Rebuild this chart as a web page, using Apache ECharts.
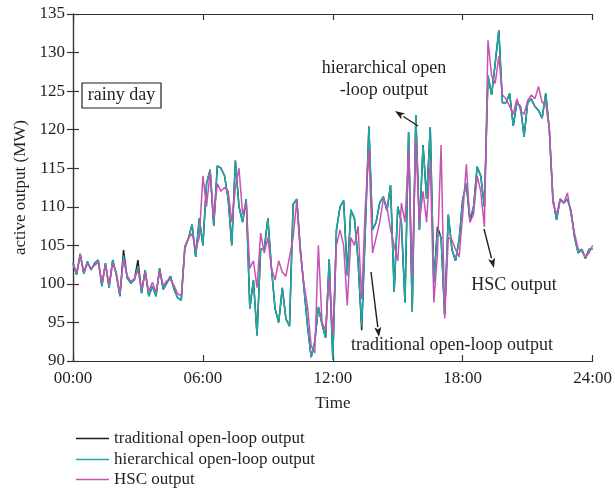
<!DOCTYPE html>
<html>
<head>
<meta charset="utf-8">
<script src="https://cdn.jsdelivr.net/npm/echarts@6/dist/echarts.min.js"></script>
<style>
html, body { margin: 0; padding: 0; background: #fff; }
#main { width: 615px; height: 489px; }
</style>
</head>
<body>
<div id="main"></div>
<script>
// one point every 10 minutes, 00:00 .. 24:00
var stepMin = 10;
var seriesNames = ['traditional open-loop output', 'hierarchical open-loop output', 'HSC output'];
var yTicks = [90, 95, 100, 105, 110, 115, 120, 125, 130, 135];

// hierarchical open-loop output (teal)
var hierarchical = [
	102.7, 101.2, 103.9, 101.3, 102.9, 101.8, 102.7, 103.1, 99.7, 102.7, 99.5, 103.1, 101.2, 98.4, 103.7, 100.8, 100.1, 100.5, 102.3, 98.8,
	101.8, 98.4, 99.7, 98.4, 102, 99.3, 100.1, 101, 99.3, 98.2, 97.9, 104.8, 105.9, 107.7,
	103.5, 108.5, 105, 113, 114.8, 107.5, 115.3, 115, 114, 111, 105, 116, 110, 108, 111, 96.8, 100.5, 93.3, 104.5, 104.5, 108.5,
	102, 96.8, 95, 99.5, 95.5, 94.5, 110.3, 111, 104.5, 99.5, 94.5, 90.5, 92.5, 97, 94.8, 93, 103.2, 90.2, 107, 110, 110.8,
	101, 109.6, 108.5, 103, 94.5, 107, 120.4, 107, 108, 110.5, 111.3, 109.5, 112.8, 99, 110, 108, 97.6, 119.7, 96.4, 121.9,
	107, 118, 111, 120.3, 100.2, 106.8, 106, 96, 109, 104.5, 103, 105.7,
	111, 113, 108.5, 110, 115.2, 114, 110, 127, 124.5, 128.6, 132.9, 123.5, 123.5, 124.7, 120.5, 123.5, 123, 119.1, 123.5, 124,
	123, 122.5, 121.5, 124.7, 120, 111, 108.3, 111, 110.5, 111, 109.5, 106, 104, 104.5, 103.3, 104.5, 104.5
];
// traditional open-loop output (black, mostly hidden under the teal line)
var traditional = [
	102.7, 101.2, 103.9, 101.3, 102.9, 101.8, 102.7, 103.1, 99.7, 102.7, 99.5, 103.1, 101.2, 98.4, 104.4, 100.8, 100.1, 100.5, 103.1, 98.8,
	101.8, 98.4, 99.7, 98.4, 102, 99.3, 100.1, 101, 99.3, 98.2, 97.9, 104.8, 105.9, 107.7,
	103.5, 108.5, 105, 113, 114.8, 107.5, 115.3, 115, 114, 111, 105, 116, 110, 108, 111, 96.8, 100.5, 93.3, 104.5, 104.5, 108.5,
	102, 96.8, 95, 99.5, 95.5, 94.5, 110.3, 111, 104.5, 99.5, 94.5, 90.5, 92.5, 97, 94.8, 93, 103.2, 90.2, 107, 110, 110.8,
	101.3, 109.6, 108.5, 103, 94, 107, 120.4, 107, 108, 110.5, 111.3, 109.5, 112.8, 99, 110, 108, 97.6, 119.7, 96.4, 121.9,
	107, 118, 111, 120.3, 100.2, 107.4, 106, 96, 109, 104.5, 103, 105.7,
	111, 113, 108, 110, 115.2, 114, 110, 127, 124.5, 128.6, 132.9, 123.5, 123.5, 124.7, 120.5, 123.5, 123, 119.1, 123.5, 124,
	123, 122.5, 121.5, 124.7, 120, 111, 108.3, 111, 110.5, 111, 109.5, 106, 104, 104.5, 103.3, 104.5, 104.5
];
// HSC output (magenta)
var hsc = [
	102.5, 101.5, 103.6, 101.6, 102.6, 102, 102.4, 102.8, 100.2, 102.4, 99.9, 102.7, 101.5, 98.8, 103.2, 101.1, 100.3, 100.7, 101.8, 99.3,
	101.4, 99, 100.2, 98.9, 101.6, 99.8, 100.4, 100.6, 99.8, 98.7, 98.5, 104.5, 106, 106.5,
	104.5, 106, 114, 110, 114.6, 108.5, 113, 112, 112.5, 112, 108, 112.5, 115, 109, 110.5, 102, 103, 99.5, 106.6, 104, 106,
	102, 100.5, 103, 101.5, 101, 103.5, 106, 110.8, 104, 100, 97, 92, 91, 105, 95, 94, 101, 93.4, 105, 107, 105,
	97.2, 106, 105, 107.5, 98, 110, 117.4, 104, 106, 108, 111, 110, 107, 105, 103, 110.5, 108, 117.5, 101, 118.7,
	108, 112, 108, 116, 97.6, 104, 118, 95.5, 106, 105.7, 104.5, 103.5,
	109, 115.5, 108, 109, 114, 112, 107.4, 131.6, 127, 126, 129.5, 124.5, 124, 123, 122, 124, 122.5, 122, 123.8, 124.5,
	124, 125.6, 123.5, 123.5, 120, 110.5, 109, 111, 110.5, 111.8, 109, 106.5, 104.5, 104.2, 103.5, 104, 105
];

var colors = ['#231f20', '#1aaba8', '#c653b3'];
var legendTops = [425, 446, 466];
var FONT = 'Liberation Serif';
var TXT = '#231f20';

function pairs(arr) {
	var out = [];
	for (var i = 0; i < arr.length; i++) {
		out.push([i * stepMin, arr[i]]);
	}
	return out;
}
function hhmm(v) {
	var h = Math.round(v / 60);
	return (h < 10 ? '0' + h : '' + h) + ':00';
}
//箭头
function arrow(x1, y1, x2, y2) {
	var ang = Math.atan2(y2 - y1, x2 - x1);
	var len = 10, half = 3.6;
	var bx = x2 - len * Math.cos(ang), by = y2 - len * Math.sin(ang);
	var px = -Math.sin(ang) * half, py = Math.cos(ang) * half;
	return [{
		type: 'line', z: 100,
		shape: { x1: x1, y1: y1, x2: bx, y2: by },
		style: { stroke: TXT, lineWidth: 1.4 }
	}, {
		type: 'polygon', z: 100,
		shape: { points: [[x2, y2], [bx + px, by + py], [bx + len * 0.25 * Math.cos(ang), by + len * 0.25 * Math.sin(ang)], [bx - px, by - py]] },
		style: { fill: TXT }
	}];
}
function label(text, x, y) {
	return {
		type: 'text', z: 100, x: x, y: y,
		style: { text: text, fill: TXT, font: '18px "' + FONT + '"', align: 'center', verticalAlign: 'middle' }
	};
}

var axisLine = { lineStyle: { color: '#333', width: 1.2 } };
var tick = { inside: true, length: 6, lineStyle: { color: '#333', width: 1.2 } };

var graphics = [
	{ type: 'rect', z: 100, shape: { x: 82, y: 83, width: 79, height: 25 }, style: { fill: '#fff', stroke: TXT, lineWidth: 1.2 } },
	label('rainy day', 121.5, 95.5),
	label('hierarchical open', 384, 68),
	label('-loop output', 384, 90),
	label('HSC output', 514, 285),
	label('traditional open-loop output', 452, 345)
].concat(arrow(418, 126, 395, 111), arrow(484, 229, 494, 268), arrow(371, 272, 379, 337));

//图例，一行一个
var legends = [];
for (var k = 0; k < seriesNames.length; k++) {
	legends.push({
		orient: 'vertical',
		left: 71,
		top: legendTops[k],
		icon: 'rect',
		itemWidth: 33,
		itemHeight: 1.6,
		selectedMode: false,
		data: [seriesNames[k]],
		textStyle: { fontFamily: FONT, fontSize: 17, color: TXT }
	});
}

var option = {
	animation: false,
	backgroundColor: '#fff',
	grid: { left: 73, right: 19, top: 14, bottom: 128, containLabel: false },
	legend: legends,
	xAxis: [{
		type: 'value', min: 0, max: 1440, interval: 360,
		name: 'Time', nameLocation: 'middle', nameGap: 34,
		nameTextStyle: { fontFamily: FONT, fontSize: 17, color: TXT },
		axisLine: axisLine, axisTick: tick, splitLine: { show: false },
		axisLabel: { fontFamily: FONT, fontSize: 17, color: TXT, margin: 9, formatter: hhmm }
	}, {
		type: 'value', position: 'top', min: 0, max: 1440, interval: 360,
		axisLine: axisLine, axisTick: tick, splitLine: { show: false }, axisLabel: { show: false }
	}],
	yAxis: [{
		type: 'value', min: yTicks[0], max: yTicks[yTicks.length - 1], interval: 5,
		name: 'active output (MW)', nameLocation: 'middle', nameGap: 42,
		nameTextStyle: { fontFamily: FONT, fontSize: 17, color: TXT },
		axisLine: axisLine, axisTick: tick, splitLine: { show: false },
		axisLabel: { fontFamily: FONT, fontSize: 17, color: TXT, margin: 8 }
	}, {
		type: 'value', position: 'right', min: yTicks[0], max: yTicks[yTicks.length - 1], interval: 5,
		axisLine: axisLine, axisTick: tick, splitLine: { show: false }, axisLabel: { show: false }
	}],
	series: [{
		name: seriesNames[0], type: 'line', data: pairs(traditional),
		showSymbol: false, lineStyle: { color: colors[0], width: 1.5 }, itemStyle: { color: colors[0] }
	}, {
		name: seriesNames[1], type: 'line', data: pairs(hierarchical),
		showSymbol: false, lineStyle: { color: colors[1], width: 1.5 }, itemStyle: { color: colors[1] }
	}, {
		name: seriesNames[2], type: 'line', data: pairs(hsc),
		showSymbol: false, lineStyle: { color: colors[2], width: 1.5 }, itemStyle: { color: colors[2] }
	}],
	graphic: graphics
};

var myChart = echarts.init(document.getElementById('main'), null, { renderer: 'canvas' });
myChart.setOption(option);
</script>
</body>
</html>
